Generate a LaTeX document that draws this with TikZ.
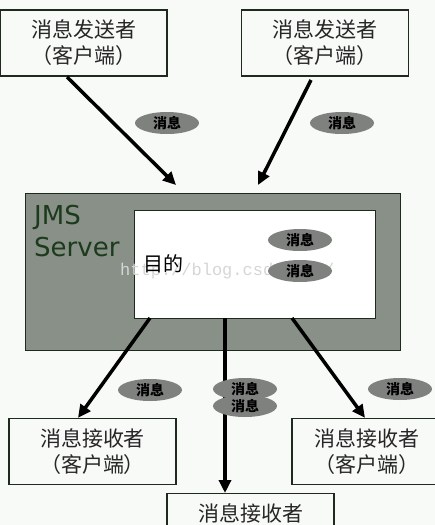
\documentclass[tikz,border=0pt]{standalone}
\usepackage{fontspec}
\newfontfamily\cjk{Noto Sans CJK SC}
\newfontfamily\jms{DejaVu Sans}
\newfontfamily\wmfont{Liberation Mono}
\usetikzlibrary{arrows.meta,shapes.geometric}
\definecolor{bg}{HTML}{F7FAF6}
\definecolor{srv}{HTML}{889087}
\definecolor{edge}{HTML}{1E2A1E}
\definecolor{msgfill}{HTML}{7F817F}
\definecolor{jmsgreen}{HTML}{1C3A1C}
\tikzset{
  client/.style={draw=edge, line width=1.2pt, fill=bg, minimum width=167pt, minimum height=66pt, align=center, font=\cjk\fontsize{21pt}{26pt}\selectfont, text=black!85},
  msg/.style={ellipse, fill=msgfill, minimum width=64pt, minimum height=22pt, inner sep=0pt, font=\cjk\bfseries\fontsize{14pt}{14pt}\selectfont, text=black},
  flow/.style={line width=3.5pt, draw=black, -{Triangle[length=13pt,width=12pt]}}
}
\begin{document}
\begin{tikzpicture}[x=1pt,y=-1pt]
\useasboundingbox (0,0) rectangle (435,525);
\clip (0,0) rectangle (435,525);
\fill[bg] (0,0) rectangle (435,525);

% senders
\node[client] (s1) at (83.5,43) {消息发送者\\（客户端）};
\node[client] (s2) at (325,43) {消息发送者\\（客户端）};

% server
\node[draw=edge, line width=1.2pt, fill=srv, minimum width=375pt, minimum height=157pt, anchor=north west, inner sep=0pt] (server) at (25,193) {};
\node[anchor=north west, font=\jms\fontsize{26pt}{32pt}\selectfont, text=jmsgreen, align=left, inner sep=0pt] (jmslabel) at (34,205) {JMS\\Server};
\node[draw=edge, line width=1.2pt, fill=white, minimum width=241pt, minimum height=108pt, anchor=north west, inner sep=0pt] (dest) at (134,210) {};
\node[font=\wmfont\fontsize{17pt}{17pt}\selectfont, text=black!16, anchor=west, inner sep=0pt] (wm) at (120,271) {http://blog.csdn.net/};
\node[anchor=west, font=\cjk\fontsize{20pt}{20pt}\selectfont, inner sep=0pt] (destlabel) at (143,264) {目的};
\node[msg] (m3) at (300,240) {消息};
\node[msg] (m4) at (300,271) {消息};

% receivers
\node[client] (r1) at (92.5,451.5) {消息接收者\\（客户端）};
\node[client, minimum width=150pt] (r2) at (367,451.5) {消息接收者\\（客户端）};
\node[client, anchor=north, inner ysep=5pt] (r3) at (250.5,493) {消息接收者\\（客户端）};

% arrows in
\coordinate (a1s) at (67,77);
\coordinate (a1e) at (176,185);
\coordinate (a2s) at (311,80);
\coordinate (a2e) at (258,185);
\draw[flow] (a1s) -- (a1e);
\draw[flow] (a2s) -- (a2e);
\node[msg] (m1) at (167,123) {消息};
\node[msg] (m2) at (342,123) {消息};

% arrows out
\coordinate (b1s) at (150,318);
\coordinate (b2s) at (225,318);
\coordinate (b3s) at (292,318);
\draw[flow] (b1s) -- (r1.north -| 78,0);
\draw[flow] (b2s) -- (b2s |- r3.north);
\draw[flow] (b3s) -- (r2.north -| 365,0);
\node[msg] (m5) at (150,390) {消息};
\node[msg] (m6) at (245,389) {消息};
\node[msg] (m7) at (245,406) {消息};
\node[msg] (m8) at (400,389) {消息};
\end{tikzpicture}
\end{document}
